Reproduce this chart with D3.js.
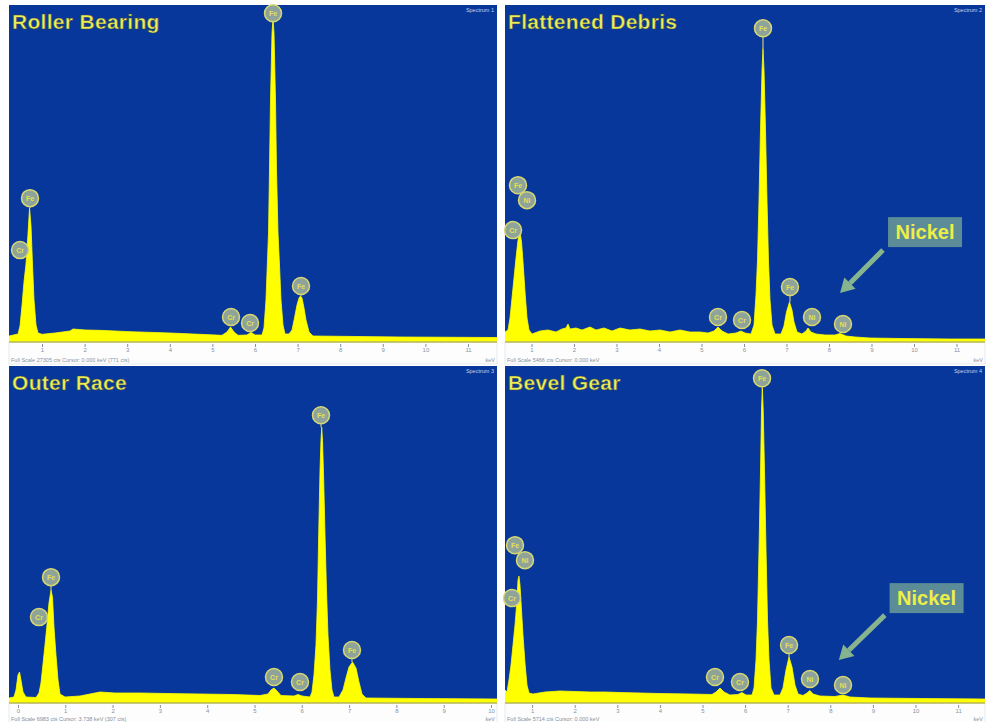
<!DOCTYPE html>
<html>
<head>
<meta charset="utf-8">
<script src="https://cdn.jsdelivr.net/npm/d3@7"></script>
<style>
  body { margin: 0; background: #fff; }
  svg { display: block; font-family: "Liberation Sans", Arial, sans-serif; }
</style>
</head>
<body>
<div id="chart"></div>
<script>
// EDS spectra: [keV, counts]
var rollerSpectrum = [
  [0.225,15],[0.437,21],[0.484,45],[0.531,108],[0.577,177],[0.624,231],[0.671,321],[0.707,399],
  [0.742,345],[0.777,228],[0.812,123],[0.859,48],[0.906,24],[1.0,20],[1.305,24],[1.657,30],
  [1.728,36],[2.009,33],[2.362,32],[3.066,28],[4.005,24],[4.709,20],[5.225,17],[5.343,27],
  [5.425,42],[5.507,27],[5.601,17],[5.812,18],[5.906,26],[6.0,18],[6.164,18],[6.211,39],
  [6.258,123],[6.293,243],[6.317,324],[6.340,513],[6.364,723],[6.399,924],[6.423,969],[6.446,924],
  [6.481,723],[6.505,513],[6.540,324],[6.575,228],[6.61,123],[6.657,48],[6.704,21],[6.798,21],
  [6.869,33],[6.927,69],[6.986,108],[7.033,129],[7.068,135],[7.103,129],[7.150,99],[7.197,63],
  [7.268,27],[7.362,15],[9.404,12],[11.681,10.5]
];
var debrisSpectrum = [
  [0.376,27],[0.447,33],[0.494,69],[0.541,129],[0.588,189],[0.635,249],[0.682,303],[0.729,327],
  [0.765,297],[0.8,237],[0.847,147],[0.894,69],[0.941,33],[1.012,21],[1.2,30],[1.388,33],
  [1.576,27],[1.718,36],[1.812,39],[1.859,51],[1.906,36],[2.047,39],[2.188,33],[2.376,42],
  [2.518,33],[2.706,39],[2.894,30],[3.082,39],[3.318,33],[3.553,36],[3.788,30],[4.024,33],
  [4.259,27],[4.494,33],[4.729,27],[4.965,27],[5.153,24],[5.294,30],[5.388,42],[5.482,30],
  [5.624,21],[5.812,24],[5.929,30],[6.024,24],[6.165,21],[6.235,48],[6.282,138],[6.318,243],
  [6.353,423],[6.388,633],[6.424,813],[6.447,879],[6.471,813],[6.506,633],[6.541,423],[6.576,243],
  [6.612,123],[6.659,48],[6.729,21],[6.871,21],[6.941,45],[7.0,87],[7.071,117],[7.129,93],
  [7.176,57],[7.247,27],[7.365,21],[7.459,30],[7.506,39],[7.576,27],[7.694,21],[7.906,18],
  [8.141,18],[8.259,22.5],[8.4,15],[8.612,12],[8.965,9],[9.671,7.5],[10.847,6],[11.671,6]
];
var outerSpectrum = [
  [-0.19,12],[-0.085,15],[-0.042,36],[0.0,81],[0.032,90],[0.063,66],[0.106,30],[0.169,15],
  [0.381,13.5],[0.444,27],[0.486,57],[0.529,114],[0.571,171],[0.613,231],[0.655,297],[0.698,336],
  [0.729,315],[0.761,225],[0.803,141],[0.846,66],[0.888,24],[0.994,15],[1.311,18],[1.628,27],
  [1.734,30],[2.051,27],[2.579,27],[3.15,25.5],[3.848,24],[4.545,22.5],[5.116,19.5],[5.285,24],
  [5.349,36],[5.412,42],[5.476,33],[5.56,19.5],[5.835,18],[5.92,22.5],[6.004,18],[6.173,15],
  [6.216,30],[6.258,81],[6.300,171],[6.332,306],[6.359,516],[6.385,696],[6.406,786],[6.421,825],
  [6.438,786],[6.463,666],[6.491,501],[6.522,336],[6.554,201],[6.596,96],[6.638,36],[6.681,15],
  [6.787,15],[6.871,36],[6.934,72],[6.998,105],[7.072,120],[7.146,102],[7.209,60],[7.273,24],
  [7.357,12],[8.499,10.5],[10.127,9]
];
var bevelSpectrum = [
  [0.364,36],[0.411,30],[0.458,66],[0.505,111],[0.552,171],[0.599,231],[0.646,306],[0.669,366],
  [0.692,378],[0.716,351],[0.751,276],[0.786,201],[0.833,117],[0.88,51],[0.927,27],[1.021,24],
  [1.303,30],[1.655,33],[2.007,31.5],[2.359,30],[2.711,30],[3.063,28.5],[3.533,27],[4.002,25.5],
  [4.707,24],[5.223,22.5],[5.317,30],[5.411,42],[5.505,30],[5.646,21],[5.833,22.5],[5.927,28.5],
  [6.021,21],[6.162,21],[6.209,42],[6.256,126],[6.291,246],[6.326,456],[6.362,696],[6.385,876],
  [6.404,945],[6.425,876],[6.455,696],[6.491,456],[6.526,246],[6.561,126],[6.608,42],[6.678,21],
  [6.819,21],[6.889,42],[6.960,96],[7.031,135],[7.101,105],[7.171,51],[7.242,24],[7.359,19.5],
  [7.453,27],[7.523,34.5],[7.594,24],[7.758,18],[8.11,16.5],[8.298,21],[8.462,15],[8.932,12],
  [10.106,10.5],[11.631,9]
];

// peak markers: element, keV and counts of the marker, counts of the peak it points at
var rollerLabels = [
  {el:"Cr", keV:0.484, cts:273, peak:null},
  {el:"Fe", keV:0.718, cts:429, peak:399},
  {el:"Cr", keV:5.437, cts:72, peak:null},
  {el:"Cr", keV:5.883, cts:54, peak:null},
  {el:"Fe", keV:6.423, cts:984, peak:969},
  {el:"Fe", keV:7.08, cts:165, peak:135}
];
var debrisLabels = [
  {el:"Fe", keV:0.682, cts:468, peak:null},
  {el:"Ni", keV:0.894, cts:423, peak:null},
  {el:"Cr", keV:0.565, cts:333, peak:null},
  {el:"Cr", keV:5.388, cts:72, peak:null},
  {el:"Cr", keV:5.953, cts:63, peak:null},
  {el:"Fe", keV:6.447, cts:939, peak:879},
  {el:"Fe", keV:7.082, cts:162, peak:117},
  {el:"Ni", keV:7.6, cts:72, peak:null},
  {el:"Ni", keV:8.329, cts:51, peak:null}
];
var outerLabels = [
  {el:"Cr", keV:0.444, cts:255, peak:null},
  {el:"Fe", keV:0.698, cts:375, peak:336},
  {el:"Cr", keV:5.412, cts:75, peak:null},
  {el:"Cr", keV:5.962, cts:60, peak:null},
  {el:"Fe", keV:6.406, cts:861, peak:825},
  {el:"Fe", keV:7.061, cts:156, peak:120}
];
var bevelLabels = [
  {el:"Fe", keV:0.599, cts:471, peak:null},
  {el:"Ni", keV:0.833, cts:426, peak:null},
  {el:"Cr", keV:0.528, cts:312, peak:null},
  {el:"Cr", keV:5.293, cts:75, peak:null},
  {el:"Cr", keV:5.88, cts:60, peak:null},
  {el:"Fe", keV:6.397, cts:972, peak:945},
  {el:"Fe", keV:7.031, cts:171, peak:135},
  {el:"Ni", keV:7.523, cts:69, peak:null},
  {el:"Ni", keV:8.298, cts:51, peak:null}
];

var titles = ["Roller Bearing", "Flattened Debris", "Outer Race", "Bevel Gear"];
var fullScale = [
  "Full Scale 27305 cts  Cursor: 0.000 keV (771 cts)",
  "Full Scale 5466 cts  Cursor: 0.000 keV",
  "Full Scale 6983 cts  Cursor: 3.738 keV (307 cts)",
  "Full Scale 5714 cts  Cursor: 0.000 keV"
];
var wideTicks = [1, 2, 3, 4, 5, 6, 7, 8, 9, 10, 11];
var outerTicks = [0, 1, 2, 3, 4, 5, 6, 7, 8, 9, 10];

// Nickel callout: box centre and arrow [from, to], in keV / counts
var nickelBox = [10.26, 327];
var nickelArrow = [[9.27, 273], [8.26, 144]];
var nickelBoxLow = [10.26, 312];
var nickelArrowLow = [[9.28, 261], [8.2, 126]];

var W = 988, H = 722;
var BLUE = "#07379a", YELLOW = "#ffff00";

var svg = d3.select("#chart").append("svg")
  .attr("width", W).attr("height", H);

svg.append("rect").attr("width", W).attr("height", H).attr("fill", "#fff");

var panels = [
  {left: 9,   right: 497, top: 5,   base: 341, strip: 22, dom: [0.225, 11.681], spec: rollerSpectrum, labels: rollerLabels, ticks: wideTicks},
  {left: 505, right: 985, top: 5,   base: 341, strip: 22, dom: [0.376, 11.671], spec: debrisSpectrum, labels: debrisLabels, ticks: wideTicks,
    box: nickelBox, arrow: nickelArrow},
  {left: 9,   right: 497, top: 366, base: 702, strip: 20, dom: [-0.19, 10.127], spec: outerSpectrum, labels: outerLabels, ticks: outerTicks},
  {left: 505, right: 985, top: 366, base: 702, strip: 20, dom: [0.364, 11.631], spec: bevelSpectrum, labels: bevelLabels, ticks: wideTicks,
    box: nickelBoxLow, arrow: nickelArrowLow}
];

panels.forEach(function(p, i) {
  var g = svg.append("g");
  var x = d3.scaleLinear().domain(p.dom).range([p.left, p.right]);
  var y = d3.scaleLinear().domain([0, 1000]).range([p.base, p.base - 333]);

  // plot background
  g.append("rect")
    .attr("x", p.left).attr("y", p.top)
    .attr("width", p.right - p.left).attr("height", p.base - p.top + 1)
    .attr("fill", BLUE);

  var clipId = "clip" + i;
  svg.append("clipPath").attr("id", clipId).append("rect")
    .attr("x", p.left).attr("y", p.top)
    .attr("width", p.right - p.left).attr("height", p.base - p.top + 1);

  var area = d3.area()
    .x(function(d) { return x(d[0]); })
    .y0(y(0) + 1)
    .y1(function(d) { return y(d[1]); });

  g.append("path")
    .datum(p.spec)
    .attr("clip-path", "url(#" + clipId + ")")
    .attr("d", area)
    .attr("fill", YELLOW)
    .attr("stroke", YELLOW)
    .attr("stroke-width", 0.8);

  // axis strip
  g.append("rect")
    .attr("x", p.left).attr("y", p.base + 1)
    .attr("width", p.right - p.left).attr("height", p.strip)
    .attr("fill", "#fdfdfd")
    .attr("stroke", "#d0d4dc").attr("stroke-width", 0.5);

  g.append("line")
    .attr("x1", p.left).attr("x2", p.right)
    .attr("y1", p.base + 1).attr("y2", p.base + 1)
    .attr("stroke", "#b8b850").attr("stroke-width", 1.5);

  var axis = d3.axisBottom(x).tickValues(p.ticks).tickSize(3).tickPadding(1)
    .tickFormat(d3.format("d"));
  var ax = g.append("g")
    .attr("transform", "translate(0," + (p.base + 3) + ")")
    .call(axis);
  ax.select(".domain").remove();
  ax.selectAll(".tick line").attr("stroke", "#8890a0");
  ax.selectAll(".tick text").attr("fill", "#8890a0").attr("font-size", 6);

  g.append("text")
    .attr("x", p.left + 2).attr("y", p.base + p.strip - 1)
    .attr("font-size", 5.5).attr("fill", "#8890a0")
    .text(fullScale[i]);
  g.append("text")
    .attr("x", p.right - 2).attr("y", p.base + p.strip - 1)
    .attr("text-anchor", "end")
    .attr("font-size", 5.5).attr("fill", "#8890a0")
    .text("keV");

  g.append("text")
    .attr("x", p.right - 3).attr("y", p.top + 7)
    .attr("text-anchor", "end")
    .attr("font-size", 5.5).attr("fill", "#c8d0e8")
    .text("Spectrum " + (i + 1));

  // title
  g.append("text")
    .attr("x", p.left + 3).attr("y", p.top + 24)
    .attr("font-size", 21).attr("font-weight", "bold")
    .attr("letter-spacing", 0.3)
    .attr("fill", "#eeee58")
    .attr("stroke", "#3a4a40").attr("stroke-width", 0.5)
    .text(titles[i]);

  // peak marker lines and circles
  var lab = g.selectAll(".lab").data(p.labels).enter().append("g").attr("class", "lab");
  lab.filter(function(d) { return d.peak !== null; })
    .append("line")
    .attr("x1", function(d) { return x(d.keV); })
    .attr("x2", function(d) { return x(d.keV); })
    .attr("y1", function(d) { return y(d.cts) + 7; })
    .attr("y2", function(d) { return y(d.peak); })
    .attr("stroke", "#e8e870").attr("stroke-width", 1);
  lab.append("circle")
    .attr("cx", function(d) { return x(d.keV); })
    .attr("cy", function(d) { return y(d.cts); })
    .attr("r", 8.5)
    .attr("fill", "#8ea39a")
    .attr("stroke", "#d8d870").attr("stroke-width", 1.5);
  lab.append("text")
    .attr("x", function(d) { return x(d.keV); })
    .attr("y", function(d) { return y(d.cts) + 2.5; })
    .attr("text-anchor", "middle")
    .attr("font-size", 7).attr("font-weight", "bold")
    .attr("fill", "#e4e050")
    .text(function(d) { return d.el; });

  // Nickel callout
  if (p.box) {
    var bx = x(p.box[0]), by = y(p.box[1]);
    g.append("rect")
      .attr("x", bx - 37).attr("y", by - 15)
      .attr("width", 74).attr("height", 30)
      .attr("fill", "#5b8c98");
    g.append("text")
      .attr("x", bx).attr("y", by + 7)
      .attr("text-anchor", "middle")
      .attr("font-size", 20).attr("font-weight", "bold")
      .attr("fill", "#eeee48")
      .text("Nickel");

    var x1 = x(p.arrow[0][0]), y1 = y(p.arrow[0][1]);
    var x2 = x(p.arrow[1][0]), y2 = y(p.arrow[1][1]);
    var ang = Math.atan2(y2 - y1, x2 - x1);
    var headLen = 14, headW = 8;
    var hx = x2 - headLen * Math.cos(ang), hy = y2 - headLen * Math.sin(ang);
    g.append("line")
      .attr("x1", x1).attr("y1", y1).attr("x2", hx).attr("y2", hy)
      .attr("stroke", "#86b48e").attr("stroke-width", 5);
    g.append("polygon")
      .attr("points", [
        [x2, y2],
        [hx + headW * Math.sin(ang), hy - headW * Math.cos(ang)],
        [hx - headW * Math.sin(ang), hy + headW * Math.cos(ang)]
      ].map(function(q) { return q.join(","); }).join(" "))
      .attr("fill", "#86b48e");
  }
});
</script>
</body>
</html>
